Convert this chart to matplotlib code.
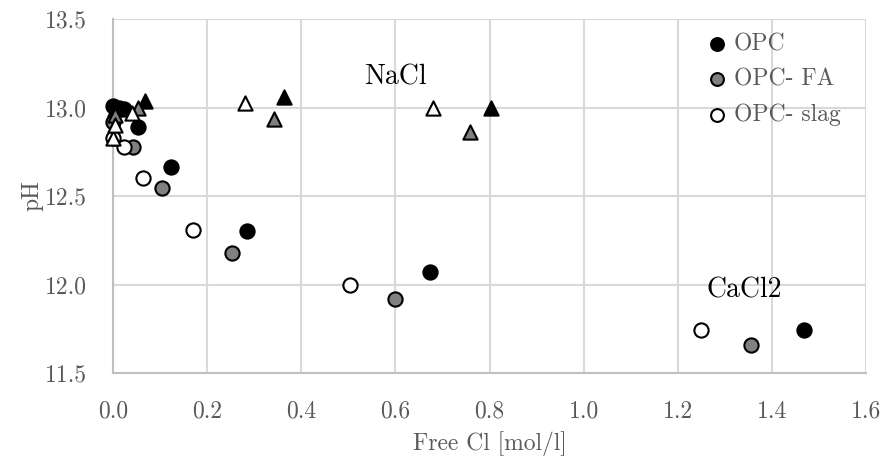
import matplotlib.pyplot as plt

plt.rcParams['font.family'] = ['cmr10', 'DejaVu Serif']
plt.rcParams['axes.formatter.use_mathtext'] = True
plt.rcParams['mathtext.fontset'] = 'cm'

# circles (CaCl2 series and low-chloride points)
opc_x = [0.0, 0.012, 0.024, 0.053, 0.123, 0.285, 0.674, 1.468]
opc_y = [13.01, 13.0, 12.99, 12.89, 12.665, 12.30, 12.07, 11.745]
fa_x = [0.0, 0.042, 0.104, 0.253, 0.600, 1.356]
fa_y = [12.92, 12.78, 12.545, 12.18, 11.92, 11.66]
slag_x = [0.0, 0.023, 0.064, 0.170, 0.504, 1.250]
slag_y = [12.83, 12.78, 12.60, 12.31, 12.0, 11.745]

# triangles (NaCl series)
opc_na_x = [0.005, 0.068, 0.363, 0.803]
opc_na_y = [12.99, 13.04, 13.06, 13.0]
fa_na_x = [0.005, 0.053, 0.342, 0.759]
fa_na_y = [12.96, 13.0, 12.935, 12.86]
slag_na_x = [0.0, 0.005, 0.040, 0.280, 0.680]
slag_na_y = [12.83, 12.90, 12.97, 13.025, 13.0]

fills = {'OPC': 'black', 'OPC- FA': '#808080', 'OPC- slag': 'white'}

fig = plt.figure(figsize=(8.83, 4.68), dpi=100)
ax = fig.add_axes([0.128, 0.203, 0.853, 0.756])

ms = 105
style = dict(s=ms, edgecolors='black', linewidths=1.5, clip_on=False)

ax.scatter(opc_x, opc_y, marker='o', c=fills['OPC'], label='OPC', zorder=3, **style)
ax.scatter(fa_x, fa_y, marker='o', c=fills['OPC- FA'], label='OPC- FA', zorder=3, **style)
ax.scatter(slag_x, slag_y, marker='o', c=fills['OPC- slag'], label='OPC- slag', zorder=3, **style)

ax.scatter(opc_na_x, opc_na_y, marker='^', c=fills['OPC'], zorder=4, **style)
ax.scatter(fa_na_x, fa_na_y, marker='^', c=fills['OPC- FA'], zorder=4, **style)
ax.scatter(slag_na_x, slag_na_y, marker='^', c=fills['OPC- slag'], zorder=4, **style)

ax.text(0.6, 13.17, 'NaCl', fontsize=20, ha='center', va='center', color='black')
ax.text(1.34, 11.97, 'CaCl2', fontsize=20, ha='center', va='center', color='black')

ax.set_xlim(0, 1.6)
ax.set_ylim(11.5, 13.5)
ax.set_xticks([0.0, 0.2, 0.4, 0.6, 0.8, 1.0, 1.2, 1.4, 1.6])
ax.set_yticks([11.5, 12.0, 12.5, 13.0, 13.5])
ax.set_xticklabels(['0.0', '0.2', '0.4', '0.6', '0.8', '1.0', '1.2', '1.4', '1.6'])
ax.set_yticklabels(['11.5', '12.0', '12.5', '13.0', '13.5'])
ax.grid(True, color='#d9d9d9', linewidth=1.5, zorder=0)
ax.set_axisbelow(True)
for side in ['top', 'right']:
    ax.spines[side].set_visible(False)
for side in ['left', 'bottom']:
    ax.spines[side].set_color('#bfbfbf')
    ax.spines[side].set_linewidth(1.5)
ax.tick_params(length=0, labelsize=17, labelcolor='#595959')
ax.tick_params(axis='x', pad=20)
ax.tick_params(axis='y', pad=19)

ax.set_xlabel('Free Cl [mol/l]', fontsize=17, color='#595959', labelpad=6)
ax.set_ylabel('pH', fontsize=17, color='#595959', labelpad=1)

ax.legend(loc='upper right', frameon=False, fontsize=17, labelcolor='#595959',
          handletextpad=-0.3, borderaxespad=0.2, labelspacing=0.55, markerscale=0.9,
          bbox_to_anchor=(0.985, 1.0))

fig.savefig('out.png', dpi=100)
